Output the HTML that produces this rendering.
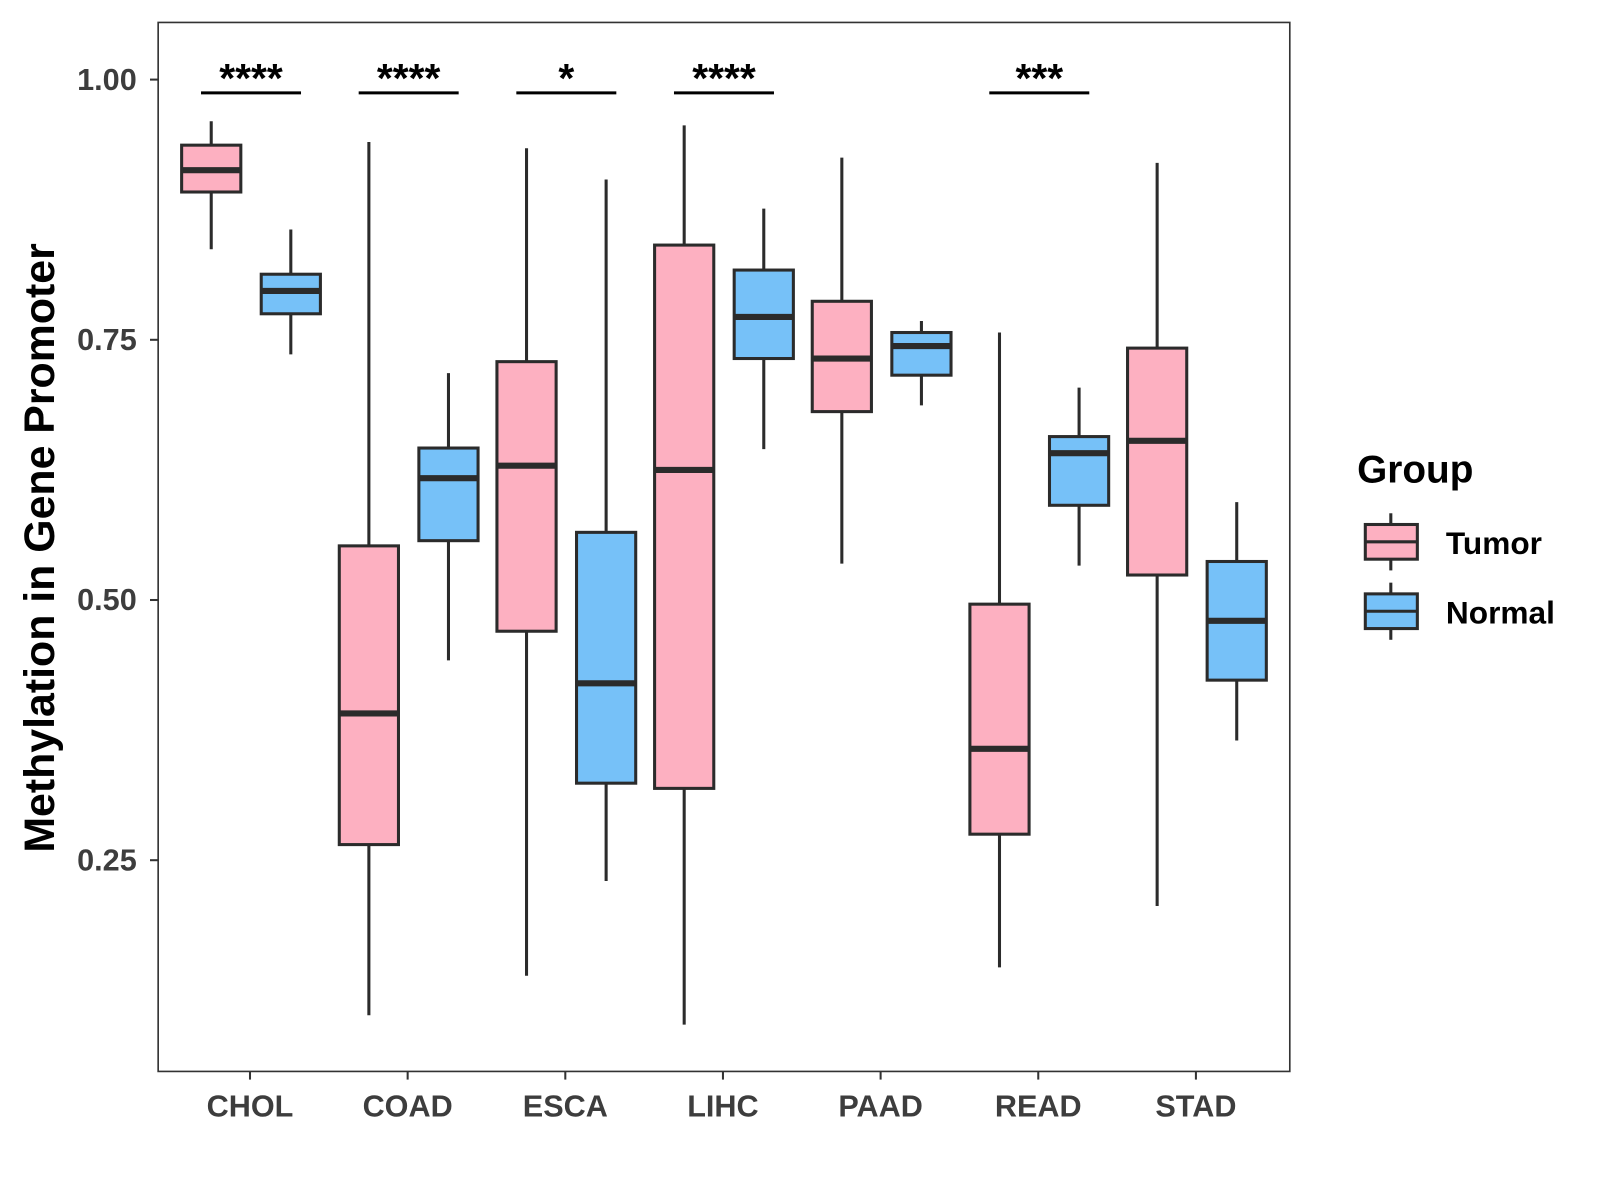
<!DOCTYPE html>
<html><head><meta charset="utf-8"><style>
html,body{margin:0;padding:0;background:#fff;}
svg{display:block;font-family:"Liberation Sans",Arial,sans-serif;}
</style></head><body>
<svg id="chart" width="1600" height="1200" viewBox="0 0 1568 1176" xmlns="http://www.w3.org/2000/svg">
<rect width="1568" height="1176" fill="#fff"/>
<g id="marks"></g>
<rect x="155" y="22" width="1109" height="1028" fill="none" stroke="#333" stroke-width="1.6"/>
<g id="axes"></g>
<text transform="translate(53,537) rotate(-90)" text-anchor="middle" font-size="42" font-weight="bold" fill="#000">Methylation in Gene Promoter</text>
<g>
<text x="1330" y="473" font-size="38" font-weight="bold" fill="#000">Group</text>
<g>
<line x1="1363" y1="503" x2="1363" y2="559" stroke="#2b2b2b" stroke-width="3"/>
<rect x="1338" y="514" width="51" height="34" fill="#FDB0C1" stroke="#2b2b2b" stroke-width="3"/>
<line x1="1338" y1="531" x2="1389" y2="531" stroke="#2b2b2b" stroke-width="3"/>
<text x="1417" y="543" font-size="31" font-weight="bold" fill="#000">Tumor</text>
</g>
<g>
<line x1="1363" y1="571" x2="1363" y2="627" stroke="#2b2b2b" stroke-width="3"/>
<rect x="1338" y="582" width="51" height="34" fill="#76C1F8" stroke="#2b2b2b" stroke-width="3"/>
<line x1="1338" y1="599" x2="1389" y2="599" stroke="#2b2b2b" stroke-width="3"/>
<text x="1417" y="611" font-size="31" font-weight="bold" fill="#000">Normal</text>
</g>
</g>
</svg>
<script>
const categories = ["CHOL","COAD","ESCA","LIHC","PAAD","READ","STAD"];
// [upper whisker, Q3, median, Q1, lower whisker]
const tumorStats = [
  [0.960,0.937,0.913,0.892,0.837],
  [0.940,0.552,0.391,0.265,0.101],
  [0.934,0.729,0.629,0.470,0.139],
  [0.956,0.841,0.625,0.319,0.092],
  [0.925,0.787,0.732,0.681,0.535],
  [0.757,0.496,0.357,0.275,0.147],
  [0.920,0.742,0.653,0.524,0.206]
];
const normalStats = [
  [0.856,0.813,0.797,0.775,0.736],
  [0.718,0.646,0.617,0.557,0.442],
  [0.904,0.565,0.420,0.324,0.230],
  [0.876,0.817,0.772,0.732,0.645],
  [0.768,0.757,0.744,0.716,0.687],
  [0.704,0.657,0.641,0.591,0.533],
  [0.594,0.537,0.480,0.423,0.365]
];
const sigLabels = ["****","****","*","****","","***",""];
const yTicks = [0.25,0.50,0.75,1.00];
const yTickLabels = ["0.25","0.50","0.75","1.00"];

const NS = "http://www.w3.org/2000/svg";
function y(v){ return 78 + (1 - v) * 1020; }
function xc(i){ return 245 + i * 154.5; }
function mk(tag, attrs, parent){
  const e = document.createElementNS(NS, tag);
  for (const k in attrs) e.setAttribute(k, attrs[k]);
  parent.appendChild(e); return e;
}
const marks = document.getElementById("marks");
const axes = document.getElementById("axes");
const W = 58;
function drawBox(cx, s, fill, name){
  const g = mk("g", {}, marks);
  
  
  mk("line", {x1:cx, x2:cx, y1:y(s[0]), y2:y(s[4]), stroke:"#2b2b2b", "stroke-width":3}, g);
  mk("rect", {x:cx-W/2, y:y(s[1]), width:W, height:y(s[3])-y(s[1]), fill:fill, stroke:"#2b2b2b", "stroke-width":3}, g);
  mk("line", {x1:cx-W/2, x2:cx+W/2, y1:y(s[2]), y2:y(s[2]), stroke:"#2b2b2b", "stroke-width":6}, g);
}
categories.forEach((c, i) => {
  drawBox(xc(i) - 38, tumorStats[i], "#FDB0C1", "box-" + c.toLowerCase() + "-tumor");
  drawBox(xc(i) + 40, normalStats[i], "#76C1F8", "box-" + c.toLowerCase() + "-normal");
  if (sigLabels[i]) {
    const g = mk("g", {}, marks);
    
    
    mk("line", {x1:xc(i)-48, x2:xc(i)+50, y1:91, y2:91, stroke:"#000", "stroke-width":3}, g);
    const t = mk("text", {x:xc(i)+1, y:90, "text-anchor":"middle", "font-size":40, "font-weight":"bold", fill:"#000"}, g);
    t.textContent = sigLabels[i];
  }
  mk("line", {x1:xc(i), x2:xc(i), y1:1050, y2:1058, stroke:"#333", "stroke-width":2}, axes);
  const lt = mk("text", {x:xc(i), y:1094, "text-anchor":"middle", "font-size":30, "font-weight":"bold", fill:"#3d3d3d"}, axes);
  
  
  lt.textContent = c;
});
yTicks.forEach((v, i) => {
  mk("line", {x1:147, x2:155, y1:y(v), y2:y(v), stroke:"#333", "stroke-width":2}, axes);
  const t = mk("text", {x:134, y:y(v)+10, "text-anchor":"end", "font-size":30, "font-weight":"bold", fill:"#3d3d3d"}, axes);
  
  
  t.textContent = yTickLabels[i];
});
</script>
</body></html>
